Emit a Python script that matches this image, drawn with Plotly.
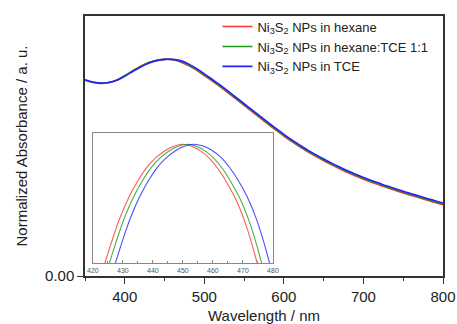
import plotly.graph_objects as go

# ---- main spectra ----
wavelength = [350, 360, 370, 380, 390, 400, 410, 420, 430, 440, 450, 460, 470, 480, 490,
              500, 510, 520, 530, 540, 550, 560, 570, 580, 590, 600, 610, 620, 630, 640,
              650, 660, 670, 680, 690, 700, 710, 720, 730, 740, 750, 760, 770, 780, 790, 800]
abs_hexane = [0.904, 0.893, 0.889, 0.893, 0.905, 0.925, 0.947, 0.968, 0.985, 0.996, 1.000,
              0.998, 0.988, 0.971, 0.950, 0.925, 0.899, 0.873, 0.845, 0.816, 0.787, 0.759,
              0.730, 0.701, 0.673, 0.646, 0.620, 0.596, 0.573, 0.552, 0.532, 0.513, 0.495,
              0.478, 0.462, 0.447, 0.433, 0.420, 0.407, 0.395, 0.383, 0.372, 0.361, 0.350,
              0.339, 0.329]
abs_mix = [0.905, 0.894, 0.890, 0.893, 0.904, 0.924, 0.946, 0.967, 0.984, 0.995, 1.000,
           0.999, 0.991, 0.975, 0.954, 0.929, 0.903, 0.877, 0.849, 0.820, 0.791, 0.763,
           0.734, 0.705, 0.677, 0.650, 0.624, 0.600, 0.577, 0.556, 0.536, 0.517, 0.499,
           0.482, 0.466, 0.451, 0.437, 0.424, 0.411, 0.399, 0.387, 0.376, 0.365, 0.354,
           0.343, 0.333]
abs_tce = [0.906, 0.895, 0.890, 0.893, 0.903, 0.922, 0.944, 0.965, 0.982, 0.994, 1.000,
           1.000, 0.994, 0.979, 0.958, 0.933, 0.907, 0.881, 0.853, 0.824, 0.795, 0.767,
           0.738, 0.709, 0.681, 0.654, 0.628, 0.604, 0.581, 0.560, 0.540, 0.521, 0.503,
           0.486, 0.470, 0.455, 0.441, 0.428, 0.415, 0.403, 0.391, 0.380, 0.369, 0.358,
           0.347, 0.337]

# ---- inset (zoom near peak) ----
inset_wl_hexane = [423, 426, 429, 432, 435, 438, 441, 444, 447, 450, 453, 456, 459, 462, 465, 468, 471, 474, 476]
inset_abs_hexane = [0.9665, 0.9740, 0.9808, 0.9862, 0.9905, 0.9940, 0.9965, 0.9983, 0.9995, 1.0000,
                    0.9995, 0.9982, 0.9962, 0.9933, 0.9895, 0.9850, 0.9790, 0.9712, 0.9650]
inset_wl_mix = [424.5, 427.5, 430.5, 433.5, 436.5, 439.5, 442.5, 445.5, 448.5, 451.5, 454.5, 457.5,
                460.5, 463.5, 466.5, 469.5, 472.5, 475.5, 477.5]
inset_abs_mix = [0.9665, 0.9740, 0.9808, 0.9862, 0.9905, 0.9940, 0.9965, 0.9983, 0.9995, 1.0000,
                 0.9995, 0.9982, 0.9962, 0.9933, 0.9895, 0.9850, 0.9790, 0.9712, 0.9650]
inset_wl_tce = [426.5, 429.5, 432.5, 435.5, 438.5, 441.5, 444.5, 447.5, 450.5, 453.5, 456.5, 459.5,
                462.5, 465.5, 468.5, 471.5, 474.5, 477.5, 479.5]
inset_abs_tce = [0.9665, 0.9740, 0.9808, 0.9862, 0.9905, 0.9940, 0.9965, 0.9983, 0.9995, 1.0000,
                 0.9996, 0.9985, 0.9967, 0.9940, 0.9905, 0.9862, 0.9805, 0.9730, 0.9670]

names = ["Ni<sub>3</sub>S<sub>2</sub> NPs in hexane",
         "Ni<sub>3</sub>S<sub>2</sub> NPs in hexane:TCE 1:1",
         "Ni<sub>3</sub>S<sub>2</sub> NPs in TCE"]
colors = ["#ff3333", "#1a9e1a", "#2222ff"]

fig = go.Figure()
for y, n, c in zip([abs_hexane, abs_mix, abs_tce], names, colors):
    fig.add_trace(go.Scatter(x=wavelength, y=y, name=n, mode="lines", line_shape="spline",
                             line=dict(color=c, width=1.6), xaxis="x", yaxis="y"))
for xw, y, c in zip([inset_wl_hexane, inset_wl_mix, inset_wl_tce],
                    [inset_abs_hexane, inset_abs_mix, inset_abs_tce], colors):
    fig.add_trace(go.Scatter(x=xw, y=y, mode="lines", line_shape="spline", showlegend=False,
                             opacity=0.8, line=dict(color=c, width=1.1),
                             xaxis="x2", yaxis="y2"))

axcol = "#333333"
fig.update_layout(
    width=457, height=324,
    margin=dict(l=85, r=14, t=13, b=48),
    paper_bgcolor="white", plot_bgcolor="white",
    font=dict(family="Liberation Sans, Arial, sans-serif", size=15, color="#222222"),
    showlegend=True,
    legend=dict(x=0.37, y=1.017, xanchor="left", yanchor="top", bgcolor="rgba(0,0,0,0)",
                font=dict(size=13, color="#222222"), itemwidth=30, tracegroupgap=0),
    xaxis=dict(domain=[0, 1], range=[350, 800], tick0=400, dtick=100, showgrid=False,
               zeroline=False, showline=True, linecolor=axcol, linewidth=1.5, mirror=True,
               ticks="outside", ticklen=6, tickcolor=axcol, tickfont=dict(size=15),
               automargin=False,
               minor=dict(dtick=50, tick0=350, ticks="outside", ticklen=3, tickcolor=axcol),
               title=dict(text="Wavelength / nm", font=dict(size=15), standoff=11)),
    yaxis=dict(domain=[0, 1], range=[0, 1.2], tickvals=[0], ticktext=["0.00"], showgrid=False,
               zeroline=False, showline=True, linecolor=axcol, linewidth=1.5, mirror=True,
               ticks="outside", ticklen=6, tickcolor=axcol, tickfont=dict(size=15),
               automargin=False,
               title=dict(text="Normalized Absorbance / a. u.", font=dict(size=15), standoff=14)),
    xaxis2=dict(domain=[0.022, 0.525], anchor="y2", range=[420, 480], dtick=10, showgrid=False,
                zeroline=False, showline=True, linecolor="#888888", linewidth=1, mirror=True,
                ticks="inside", ticklen=3, tickcolor="#888888", automargin=False,
                minor=dict(dtick=5, ticks="inside", ticklen=2, tickcolor="#888888"),
                tickfont=dict(size=7, color="#555555")),
    yaxis2=dict(domain=[0.049, 0.551], anchor="x2", range=[0.969, 1.003], showgrid=False,
                zeroline=False, showline=True, linecolor="#888888", linewidth=1, mirror=True,
                showticklabels=False, ticks="", automargin=False),
)

fig.write_html("out.html")
